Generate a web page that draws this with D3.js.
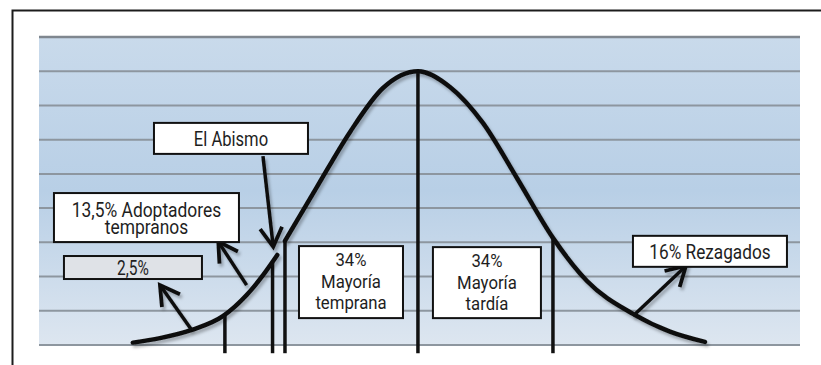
<!DOCTYPE html>
<html lang="es">
<head>
<meta charset="UTF-8">
<title>Ciclo de adopción de la tecnología</title>
<script src="https://d3js.org/d3.v7.min.js"></script>
<style>
  html, body { margin: 0; padding: 0; background: #fff; }
  svg { display: block; }
  .box-text { font-family: Roboto, "Noto Sans", sans-serif; fill: #1e1e1e; }
</style>
</head>
<body>
<svg width="821" height="365"></svg>
<script>
// Curva: x en desviaciones desde el centro, y en pasos de la rejilla
const curveLeft = [
  [-2.112, 0.07], [-1.911, 0.20], [-1.676, 0.44], [-1.442, 0.85],
  [-1.269, 1.46], [-1.146, 2.05], [-1.042, 2.63]
];
const curveRight = [
  [-0.985, 3.04], [-0.748, 4.62], [-0.504, 6.22], [-0.259, 7.51], [0, 8.0],
  [0.237, 7.54], [0.481, 6.49], [0.733, 4.88], [1.0, 3.13], [1.252, 1.87],
  [1.593, 0.91], [1.867, 0.39], [2.126, 0.09]
];
const gridSteps = d3.range(0, 10);
const dividers = [
  {x: -1.43, top: 0.88},
  {x: -1.077, top: 2.40},
  {x: -0.985, top: 3.04},
  {x: 0, top: 8.0},
  {x: 1.0, top: 3.13}
];
const arrows = [
  {from: [-1.148, 5.52], to: [-1.072, 2.87]},
  {from: [-1.269, 1.75], to: [-1.479, 3.02]},
  {from: [-1.676, 0.44], to: [-1.911, 1.75]},
  {from: [1.593, 0.85], to: [1.985, 2.31]}
];
const labels = [
  ["El Abismo"],
  ["13,5% Adoptadores", "tempranos"],
  ["2,5%"],
  ["34%", "Mayoría", "temprana"],
  ["34%", "Mayoría", "tardía"],
  ["16% Rezagados"]
];

// posición de las cajas (centro x / borde superior en unidades de datos, tamaño en px)
const boxLayout = [
  {cx: -1.385, top: 6.49, w: 154, h: 31, size: 21, sx: 0.79, base: [23], fill: "#fff"},
  {cx: -2.011, top: 4.44, w: 185, h: 49, size: 20, sx: 0.87, base: [24, 41], fill: "#fff"},
  {cx: -2.111, top: 2.60, w: 138, h: 23, size: 21, sx: 0.74, base: [19], fill: "#dfe2e7"},
  {cx: -0.496, top: 2.89, w: 104, h: 72, size: 18, sx: 0.93, base: [20, 42, 63], fill: "#fff"},
  {cx: 0.511, top: 2.86, w: 108, h: 71, size: 18, sx: 0.93, base: [20, 42, 63], fill: "#fff"},
  {cx: 2.163, top: 3.19, w: 154, h: 31, size: 21, sx: 0.82, base: [23], fill: "#fff"}
];

const svg = d3.select("svg");
const plot = {left: 39, right: 800, top: 37, bottom: 345};

const x = d3.scaleLinear().domain([-2.807, 2.83]).range([plot.left, plot.right]);
const y = d3.scaleLinear().domain([0, 9]).range([plot.bottom, plot.top]);

const defs = svg.append("defs");
const grad = defs.append("linearGradient")
  .attr("id", "bg").attr("x1", 0).attr("y1", 0).attr("x2", 0).attr("y2", 1);
grad.append("stop").attr("offset", "0%").attr("stop-color", "#c9daeb");
grad.append("stop").attr("offset", "50%").attr("stop-color", "#b8cfe6");
grad.append("stop").attr("offset", "100%").attr("stop-color", "#dde6f0");

const shadow = defs.append("filter").attr("id", "shadow")
  .attr("x", "-10%").attr("y", "-10%").attr("width", "130%").attr("height", "130%");
shadow.append("feDropShadow")
  .attr("dx", 2).attr("dy", 3).attr("stdDeviation", 1.6)
  .attr("flood-color", "#000").attr("flood-opacity", 0.28);

defs.append("marker")
  .attr("id", "head")
  .attr("viewBox", "-24 -15 28 30")
  .attr("refX", 0).attr("refY", 0)
  .attr("markerWidth", 28).attr("markerHeight", 30)
  .attr("markerUnits", "userSpaceOnUse")
  .attr("orient", "auto")
  .append("path")
  .attr("d", "M-19,-11L0,0L-19,11")
  .attr("fill", "none")
  .attr("stroke", "#111")
  .attr("stroke-width", 3.8);

// marco
svg.append("path")
  .attr("d", "M12.5,365V10.5H821")
  .attr("fill", "none")
  .attr("stroke", "#1c1c1c")
  .attr("stroke-width", 2);

// fondo y rejilla
svg.append("rect")
  .attr("x", plot.left).attr("y", plot.top)
  .attr("width", plot.right - plot.left).attr("height", plot.bottom - plot.top)
  .attr("fill", "url(#bg)");

svg.append("g").selectAll("line")
  .data(gridSteps)
  .join("line")
  .attr("x1", plot.left).attr("x2", plot.right)
  .attr("y1", d => y(d)).attr("y2", d => y(d))
  .attr("stroke", d => d === 9 ? "#7f878f" : "#8d969f")
  .attr("stroke-width", d => d === 9 ? 2.5 : 2);

// líneas verticales
svg.append("g").selectAll("line")
  .data(dividers)
  .join("line")
  .attr("x1", d => x(d.x)).attr("x2", d => x(d.x))
  .attr("y1", d => y(d.top)).attr("y2", y(-0.24))
  .attr("stroke", "#111")
  .attr("stroke-width", 3.5);

// curva
const line = d3.line()
  .x(d => x(d[0]))
  .y(d => y(d[1]))
  .curve(d3.curveMonotoneX);

svg.append("g")
  .attr("filter", "url(#shadow)")
  .selectAll("path")
  .data([curveLeft, curveRight])
  .join("path")
  .attr("d", line)
  .attr("fill", "none")
  .attr("stroke", "#111")
  .attr("stroke-width", 4.5)
  .attr("stroke-linecap", "round");

// flechas
svg.append("g")
  .attr("filter", "url(#shadow)")
  .selectAll("line")
  .data(arrows)
  .join("line")
  .attr("x1", d => x(d.from[0])).attr("y1", d => y(d.from[1]))
  .attr("x2", d => x(d.to[0])).attr("y2", d => y(d.to[1]))
  .attr("stroke", "#111")
  .attr("stroke-width", 3.5)
  .attr("marker-end", "url(#head)");

// cajas de texto
const boxes = svg.append("g").selectAll("g")
  .data(labels.map((lines, i) => ({lines, ...boxLayout[i]})))
  .join("g")
  .attr("transform", d => `translate(${x(d.cx) - d.w / 2},${y(d.top)})`);

boxes.append("rect")
  .attr("width", d => d.w).attr("height", d => d.h)
  .attr("fill", d => d.fill)
  .attr("stroke", "#111")
  .attr("stroke-width", 2);

boxes.each(function(d) {
  const g = d3.select(this);
  d.lines.forEach((t, i) => {
    g.append("text")
      .attr("class", "box-text")
      .attr("text-anchor", "middle")
      .attr("font-size", d.size)
      .attr("transform", `translate(${d.w / 2},${d.base[i]}) scale(${d.sx},1)`)
      .text(t);
  });
});
</script>
</body>
</html>
